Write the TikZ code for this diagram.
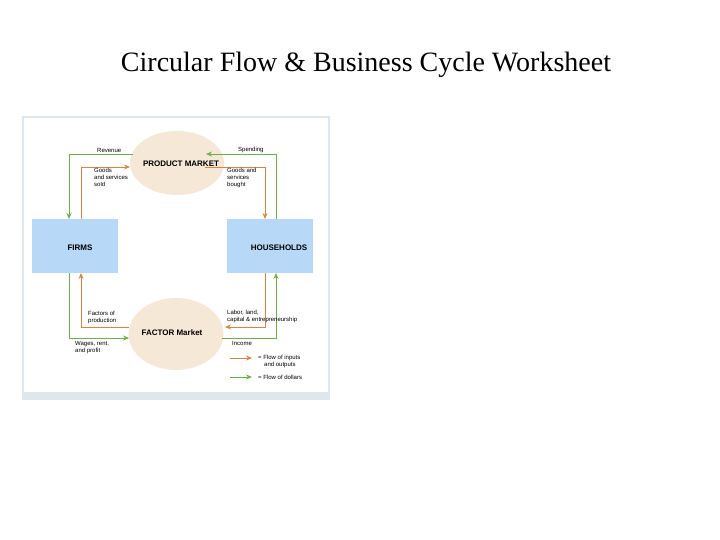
\documentclass[tikz,border=0pt]{standalone}
\usepackage{fontspec}
\setmainfont{Liberation Serif}
\setsansfont{Liberation Sans}
\usetikzlibrary{positioning,arrows.meta,shapes.geometric}
\definecolor{beige}{RGB}{246,232,214}
\definecolor{boxblue}{RGB}{183,216,246}
\definecolor{flowgreen}{RGB}{112,172,72}
\definecolor{floworange}{RGB}{214,134,66}
\definecolor{frame}{RGB}{222,230,238}

\begin{document}
\begin{tikzpicture}[x=1pt,y=-1pt]
\tikzstyle{every node}+=[font=\sffamily]
\tikzstyle{market}=[ellipse,fill=beige,inner sep=0pt]
\tikzstyle{agent}=[fill=boxblue,minimum width=86pt,minimum height=54pt,inner sep=0pt]
\tikzstyle{dollarflow}=[draw=flowgreen,line width=0.8pt,-{Stealth[length=6pt,width=5pt]}]
\tikzstyle{goodsflow}=[draw=floworange,line width=0.8pt,-{Stealth[length=6pt,width=5pt]}]
\tikzstyle{lbl}=[font=\sffamily\fontsize{6}{7}\selectfont,align=left,inner sep=0pt]
\useasboundingbox (0,0) rectangle (720,540);
% title
\node (title) at (366,65) {\rmfamily\fontsize{28}{32}\selectfont Circular Flow \& Business Cycle Worksheet};
% panel
\fill[frame] (22,116) rectangle (330,400);
\fill[white] (24,118) rectangle (328,392);
% markets and agents
\node[market,minimum width=94pt,minimum height=64pt] (product) at (177,163) {};
\node[font=\sffamily\bfseries\fontsize{8}{9}\selectfont] (productlbl) at (181,164) {PRODUCT MARKET};
\node[market,minimum width=95pt,minimum height=72pt] (factor) at (176,334) {};
\node[font=\sffamily\bfseries\fontsize{8}{9}\selectfont] (factorlbl) at (172,333) {FACTOR Market};
\node[agent,anchor=north west] (firms) at (32,219) {};
\node[font=\sffamily\bfseries\fontsize{8}{9}\selectfont] at (80,248) {FIRMS};
\node[agent,anchor=north west] (house) at (227,219) {};
\node[font=\sffamily\bfseries\fontsize{8}{9}\selectfont] at (279,248) {HOUSEHOLDS};
% flows
\draw[dollarflow] (133,154) -| (69,219);
\draw[goodsflow] (81,219) |- (130,167);
\draw[dollarflow] (276,219) |- (206,154);
\draw[goodsflow] (205,167) -| (265,219);
\draw[goodsflow] (265,273) |- (225,327);
\draw[goodsflow] (129,327) -| (81,273);
\draw[dollarflow] (69,273) |- (129,338);
\draw[dollarflow] (222,338) -| (276,273);
% labels
\node[lbl,anchor=west] (rev) at (97,150) {Revenue};
\node[lbl,anchor=west] (spend) at (238,150) {Spending};
\node[lbl,anchor=north west] (sold) at (94,168) {Goods\\and services\\sold};
\node[lbl,anchor=north west] (bought) at (227,168) {Goods and\\services\\bought};
\node[lbl,anchor=north west] (factors) at (88,311) {Factors of\\production};
\node[lbl,anchor=north west] (labor) at (227,310) {Labor, land,\\capital \& entrepreneurship};
\node[lbl,anchor=north west] (wages) at (75,341) {Wages, rent,\\and profit};
\node[lbl,anchor=north west] (income) at (232,341) {Income};
% legend
\coordinate (lo1) at (230,358);
\coordinate (lo2) at (252,358);
\coordinate (lg1) at (230,377);
\coordinate (lg2) at (252,377);
\draw[goodsflow] (lo1) -- (lo2);
\draw[dollarflow] (lg1) -- (lg2);
\node[lbl,anchor=north west] (lego) at (258,355) {= Flow of inputs\\\hspace{6pt}and outputs};
\node[lbl,anchor=west] (legg) at (258,377) {= Flow of dollars};
\end{tikzpicture}
\end{document}
